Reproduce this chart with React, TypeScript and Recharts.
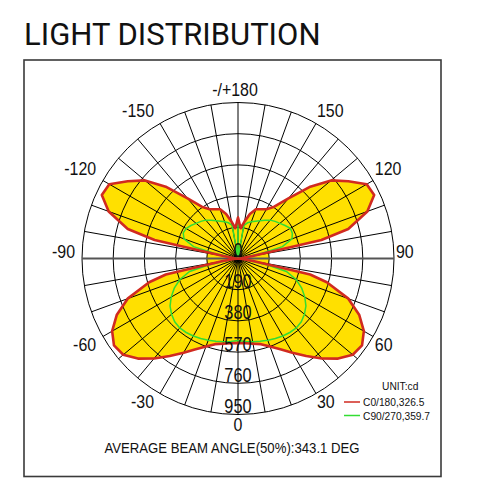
import { RadarChart, Radar, PolarGrid, PolarAngleAxis, PolarRadiusAxis } from "recharts";

// gamma angles (deg, 0 = nadir, + towards C0 side)
const angles = [
  -180, -175, -170, -165, -160, -155, -150, -145, -140, -135, -130, -125, -120, -115, -110, -105,
  -102.5, -100, -95, -90, -85, -80, -77.5, -75, -70, -65, -60, -55, -50, -45, -40, -35, -30, -25,
  -20, -15, -10, -5, 0, 5, 10, 15, 20, 25, 30, 35, 40, 45, 50, 55, 60, 65, 70, 75, 77.5, 80, 85,
  90, 95, 100, 102.5, 105, 110, 115, 120, 125, 130, 135, 140, 145, 150, 155, 160, 165, 170, 175,
];

// C0/180 plane, cd
const c0Values = [
  250, 185, 228, 280, 319, 331, 346, 385, 478, 615, 740, 820, 905, 915, 838, 695,
  520, 90, 20, 0, 25, 100, 450, 560, 715, 815, 885, 922, 912, 862, 795, 725, 662, 610,
  570, 540, 527, 518, 515, 518, 527, 540, 570, 610, 662, 725, 795, 862, 912, 922, 885, 815, 715, 560, 450, 100, 25,
  0, 20, 90, 520, 695, 838, 915, 905, 820, 740, 615, 478, 385, 346, 331, 319, 280, 228, 185,
];

// C90/270 plane, cd
const c90Values = [
  255, 5, 205, 225, 238, 250, 265, 285, 305, 320, 333, 350, 365, 368, 350, 280,
  150, 45, 10, 0, 15, 60, 190, 305, 378, 428, 470, 505, 528, 545, 552, 550, 545, 538,
  530, 522, 515, 508, 500, 508, 515, 522, 530, 538, 545, 550, 552, 545, 528, 505, 470, 428, 378, 305, 190, 60, 15,
  0, 10, 45, 150, 280, 350, 365, 368, 350, 333, 320, 305, 285, 265, 250, 238, 225, 205, 5,
];

const angleTicks = [
  -180, -170, -160, -150, -140, -130, -120, -110, -100, -90, -80, -70, -60, -50, -40, -30, -20, -10,
  0, 10, 20, 30, 40, 50, 60, 70, 80, 90, 100, 110, 120, 130, 140, 150, 160, 170,
];
const labelledAngles = [-180, -150, -120, -90, -60, -30, 0, 30, 60, 90, 120, 150];
const radiusTicks = [0, 190, 380, 570, 760, 950];

const title = "LIGHT DISTRIBUTION";
const unitText = "UNIT:cd";
const beamNote = "AVERAGE BEAM ANGLE(50%):343.1 DEG";
const legendItems = [
  { label: "C0/180,326.5", color: "#d12a20" },
  { label: "C90/270,359.7", color: "#33dd33" },
];

const YELLOW = "#ffe000";
const FONT = "'Liberation Sans', Arial, sans-serif";

const rows = angles.map((angle, i) => ({
  angle,
  c0: c0Values[i],
  c90: c90Values[i],
  core: radiusTicks[1],
}));

// the source uses a condensed face; squeeze Liberation Sans horizontally
function NarrowText({ x, y, size, anchor = "start", squeeze = 0.84, children }: any) {
  return (
    <text
      transform={`translate(${x},${y}) scale(${squeeze},1)`}
      textAnchor={anchor}
      fontSize={size}
      fontFamily={FONT}
      fill="#111"
    >
      {children}
    </text>
  );
}

function AngleTick(props: any) {
  const { x, y, payload, textAnchor } = props;
  const v = payload.value;
  if (!labelledAngles.includes(v)) return null;
  const a = Math.abs(v);
  let ty = y + 13;
  if (a === 0) ty = y + 14.5;
  else if (a === 90) ty = y - 1;
  else if (a > 90) ty = y - 5;
  const dx = v < 0 && v !== -180 ? -5 : v === -180 ? -3 : 0;
  return (
    <NarrowText x={x + dx} y={ty} size={19} anchor={textAnchor}>
      {v === -180 ? "-/+180" : String(v)}
    </NarrowText>
  );
}

function RadiusTick(props: any) {
  const { x, y, payload } = props;
  return (
    <NarrowText x={x} y={y - 1.5} size={19.5} anchor="middle">
      {payload.value}
    </NarrowText>
  );
}

export default function App() {
  return (
    <div style={{ position: "absolute", left: 0, top: 0, width: 481, height: 489, background: "#fff" }}>
      <RadarChart
        width={481}
        height={489}
        data={rows}
        cx={238}
        cy={258.5}
        outerRadius={156}
        startAngle={-270}
        endAngle={90}
        margin={{ top: 0, right: 0, bottom: 0, left: 0 }}
        style={{ position: "absolute", left: 0, top: 0 }}
      >
        {/* yellow body + inner disk under the grid */}
        <Radar dataKey="c0" fill={YELLOW} fillOpacity={1} stroke="none" isAnimationActive={false} zIndex={-200} />
        <Radar dataKey="core" fill={YELLOW} fillOpacity={1} stroke="none" isAnimationActive={false} zIndex={-200} />
        <PolarGrid gridType="circle" stroke="#000" strokeWidth={1} strokeOpacity={1} />
        <PolarGrid gridType="circle" polarAngles={[0, 180]} polarRadius={[]} stroke="#555" strokeWidth={2} />
        <Radar dataKey="c90" fill="none" stroke={legendItems[1].color} strokeWidth={1.5} isAnimationActive={false} />
        <Radar dataKey="c0" fill="none" stroke={legendItems[0].color} strokeWidth={2.6} strokeLinejoin="round" isAnimationActive={false} />
        <PolarAngleAxis
          dataKey="angle"
          type="number"
          domain={[-180, 180]}
          ticks={angleTicks}
          tickSize={2}
          tickLine={false}
          axisLine={false}
          tick={AngleTick}
        />
        <PolarRadiusAxis
          angle={-90}
          type="number"
          domain={[0, 950]}
          ticks={radiusTicks}
          axisLine={false}
          tickLine={false}
          tick={RadiusTick}
        />
      </RadarChart>
      <svg width={481} height={489} style={{ position: "absolute", left: 0, top: 0, pointerEvents: "none" }}>
        <text x={24} y={45} fontSize={31} fontFamily="Roboto, sans-serif" fill="#111">
          {title}
        </text>
        <rect x={24} y={60} width={417} height={416.5} fill="none" stroke="#3a3a3a" strokeWidth={1.6} />
        <NarrowText x={232} y={452.5} size={15.5} anchor="middle" squeeze={0.85}>
          {beamNote}
        </NarrowText>
        <NarrowText x={382} y={389.5} size={11} squeeze={0.93}>
          {unitText}
        </NarrowText>
        {legendItems.map((item, i) => (
          <g key={item.label}>
            <line x1={344} x2={360} y1={402 + i * 13.5} y2={402 + i * 13.5} stroke={item.color} strokeWidth={1.5} />
            <NarrowText x={363} y={406 + i * 13.5} size={11} squeeze={0.93}>
              {item.label}
            </NarrowText>
          </g>
        ))}
      </svg>
    </div>
  );
}
